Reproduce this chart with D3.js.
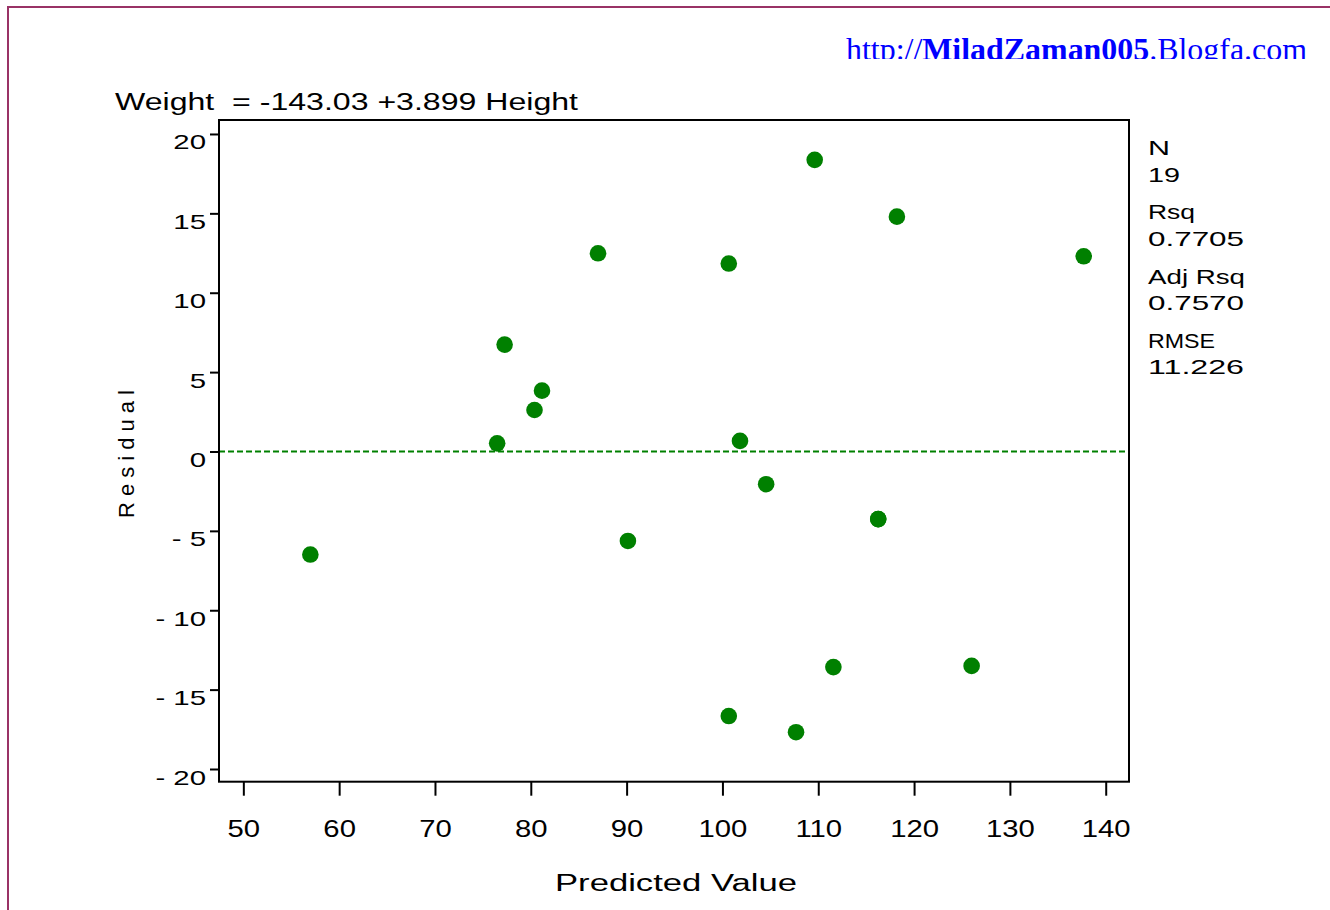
<!DOCTYPE html>
<html>
<head>
<meta charset="utf-8">
<script src="https://cdn.jsdelivr.net/npm/d3@7"></script>
<style>
  html, body { margin: 0; padding: 0; background: #fff; }
  svg { display: block; }
  text { font-family: "Liberation Sans", Arial, sans-serif; fill: #000; }
</style>
</head>
<body>
<svg id="chart" width="1330" height="910"></svg>
<script>
// ---- Data (SASHELP.CLASS regression of Weight on Height) ----
const students  = ["Alfred","Alice","Barbara","Carol","Henry","James","Jane","Janet","Jeffrey","John",
                   "Joyce","Judy","Louise","Mary","Philip","Robert","Ronald","Thomas","William"];
const predicted = [126.006, 77.268, 111.580, 101.832, 104.561, 80.387, 90.135, 100.662, 100.662, 87.016,
                   56.993, 107.681, 76.488, 116.258, 137.703, 109.630, 118.208, 81.167, 116.258];
const residual  = [-13.506, 6.732, -13.580, 0.668, -2.061, 2.613, -5.635, 11.838, -16.662, 12.484,
                   -6.493, -17.681, 0.512, -4.258, 12.297, 18.370, 14.792, 3.833, -4.258];
const xTicks = [50, 60, 70, 80, 90, 100, 110, 120, 130, 140];
const yTicks = [-20, -15, -10, -5, 0, 5, 10, 15, 20];
const statLabels = ["N", "Rsq", "Adj Rsq", "RMSE"];
const statValues = ["19", "0.7705", "0.7570", "11.226"];
const titleText = "Weight  = -143.03 +3.899 Height";
const xTitle = "Predicted Value";
const yTitle = "Residual";

// ---- Layout ----
const svg = d3.select("#chart");
const plot = { left: 219, top: 120, right: 1129, bottom: 781.7 };
const x = d3.scaleLinear().domain([47.46, 142.43]).range([plot.left, plot.right]);
const y = d3.scaleLinear().domain([-20.8, 20.88]).range([plot.bottom, plot.top]);
const green = "#008000";
const xScaleH = 1.22;
const yScaleH = 1.4;

// outer purple frame
svg.append("rect")
  .attr("x", 8).attr("y", 7).attr("width", 1400).attr("height", 1000)
  .attr("fill", "none").attr("stroke", "#993366").attr("stroke-width", 2);

// URL text, clipped at the baseline
svg.append("clipPath").attr("id", "urlclip")
  .append("rect").attr("x", 0).attr("y", 0).attr("width", 1330).attr("height", 59);
const url = svg.append("text")
  .attr("x", 846).attr("y", 60)
  .attr("clip-path", "url(#urlclip)")
  .style("font-family", "'Liberation Serif', 'Times New Roman', serif")
  .style("font-size", "31px")
  .attr("textLength", 461).attr("lengthAdjust", "spacingAndGlyphs");
url.append("tspan").text("http://").style("fill", "#0000ff");
url.append("tspan").text("MiladZaman005").style("fill", "#0000ff").style("font-weight", "bold");
url.append("tspan").text(".Blogfa.com").style("fill", "#0000ff");

// title
svg.append("text")
  .attr("x", 115).attr("y", 110)
  .attr("xml:space", "preserve")
  .style("font-size", "23px")
  .attr("textLength", 463).attr("lengthAdjust", "spacingAndGlyphs")
  .text(titleText);

// zero reference line
svg.append("line")
  .attr("x1", plot.left).attr("x2", plot.right)
  .attr("y1", y(0)).attr("y2", y(0))
  .attr("stroke", green).attr("stroke-width", 1.8)
  .attr("stroke-dasharray", "6,3");

// axes
const xAxis = svg.append("g")
  .attr("transform", `translate(0,${plot.bottom})`)
  .call(d3.axisBottom(x).tickValues(xTicks).tickSize(14).tickSizeOuter(0));
xAxis.select(".domain").remove();
xAxis.selectAll(".tick line").attr("stroke", "#000").attr("stroke-width", 2);
xAxis.selectAll(".tick text")
  .attr("y", 55).attr("dy", null)
  .attr("transform", `scale(${xScaleH},1)`)
  .style("font-size", "24px").style("font-family", "'Liberation Sans', Arial, sans-serif")
  .attr("fill", "#000");

const yAxis = svg.append("g")
  .attr("transform", `translate(${plot.left},0)`)
  .call(d3.axisLeft(y).tickValues(yTicks).tickSize(9).tickSizeOuter(0));
yAxis.select(".domain").remove();
yAxis.selectAll(".tick line").attr("stroke", "#000").attr("stroke-width", 2);
yAxis.selectAll(".tick text")
  .attr("x", -13 / yScaleH).attr("y", 15).attr("dy", null)
  .attr("transform", `scale(${yScaleH},1)`)
  .style("font-size", "21px").style("font-family", "'Liberation Sans', Arial, sans-serif")
  .attr("fill", "#000")
  .text(d => d < 0 ? "- " + Math.abs(d) : String(d));

// plot frame
svg.append("rect")
  .attr("x", plot.left).attr("y", plot.top)
  .attr("width", plot.right - plot.left).attr("height", plot.bottom - plot.top)
  .attr("fill", "none").attr("stroke", "#000").attr("stroke-width", 2);

// points
svg.append("g").selectAll("circle")
  .data(students.map((s, i) => ({ s, p: predicted[i], r: residual[i] })))
  .join("circle")
  .attr("cx", d => x(d.p)).attr("cy", d => y(d.r))
  .attr("r", 8.3).attr("fill", green);

// axis titles
svg.append("text")
  .attr("x", 555).attr("y", 891)
  .style("font-size", "23px")
  .attr("textLength", 242).attr("lengthAdjust", "spacingAndGlyphs")
  .text(xTitle);

svg.append("text")
  .attr("transform", `translate(134,${(390 + 518) / 2}) rotate(-90)`)
  .attr("text-anchor", "middle")
  .style("font-size", "22px")
  .attr("textLength", 128).attr("lengthAdjust", "spacing")
  .text(yTitle);

// stats
const statWidthsL = [22, 47, 97, 67];
const statWidthsV = [32, 96, 96, 96];
statLabels.forEach((lab, i) => {
  const base = 155 + i * 64.3;
  svg.append("text").attr("x", 1148).attr("y", base)
    .style("font-size", "21px")
    .attr("textLength", statWidthsL[i]).attr("lengthAdjust", "spacingAndGlyphs")
    .text(lab);
  svg.append("text").attr("x", 1148).attr("y", base + 26.5)
    .style("font-size", "21px")
    .attr("textLength", statWidthsV[i]).attr("lengthAdjust", "spacingAndGlyphs")
    .text(statValues[i]);
});
</script>
</body>
</html>
